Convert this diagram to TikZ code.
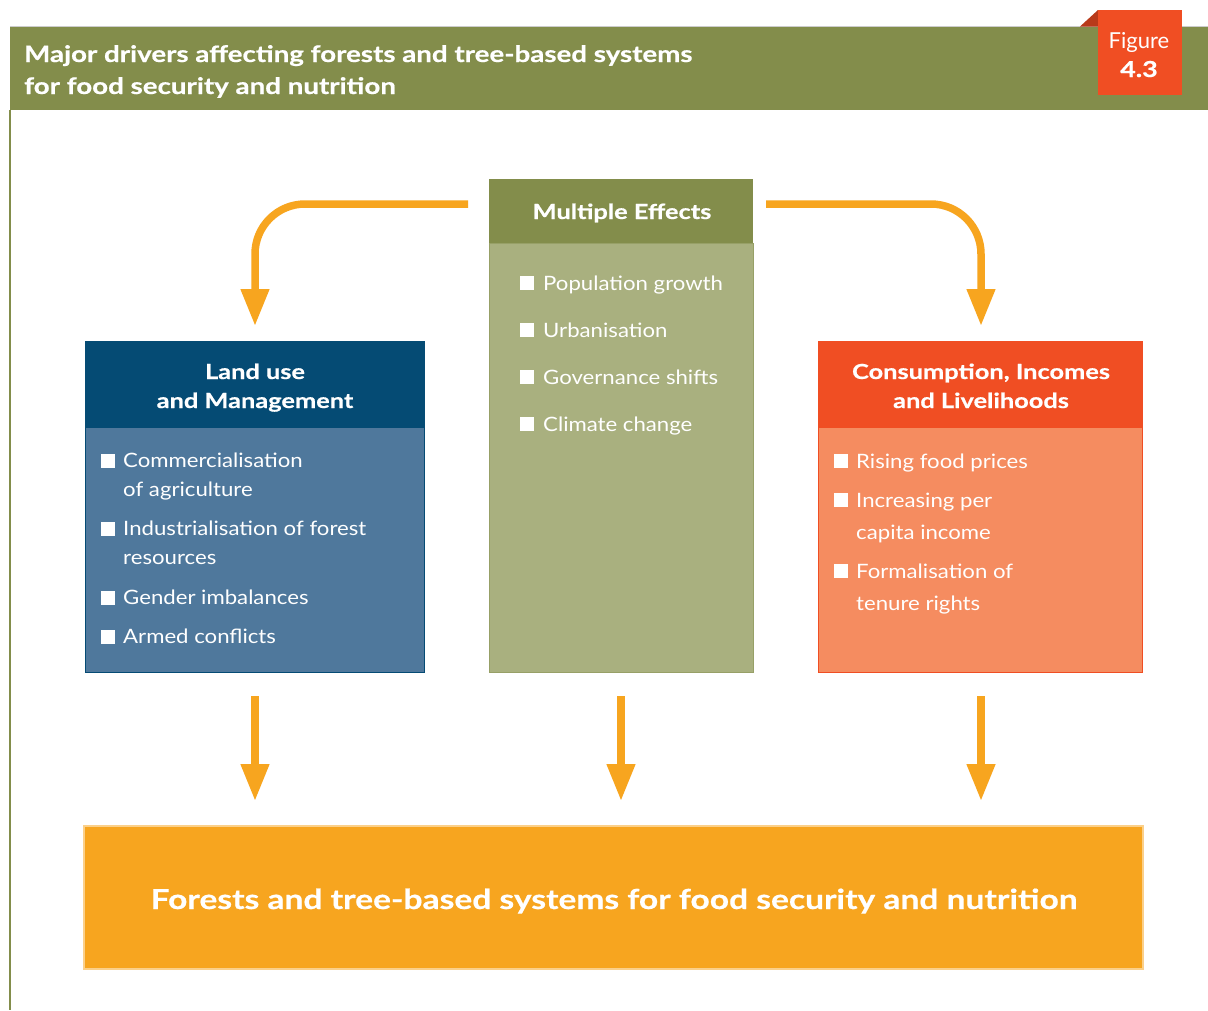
\documentclass[tikz,border=0pt]{standalone}
\usepackage{fontspec}
\setmainfont{Lato}
\newfontfamily\bwide[FakeStretch=1.22,FakeBold=0.6]{Lato Bold}
\newfontfamily\rwide[FakeStretch=1.12]{Lato}
\usetikzlibrary{arrows.meta}
\definecolor{olive}{HTML}{838D4B}
\definecolor{olivelt}{HTML}{A9B07F}
\definecolor{oliveln}{HTML}{97A067}
\definecolor{navy}{HTML}{054B74}
\definecolor{steel}{HTML}{4F789C}
\definecolor{redor}{HTML}{F04E23}
\definecolor{salmon}{HTML}{F58C60}
\definecolor{amber}{HTML}{F7A51F}
\definecolor{amberln}{HTML}{FBD08A}
\definecolor{foldc}{HTML}{B83A1A}
\tikzset{
  hdr/.style={inner sep=0, minimum width=#1},
  hdrtxt/.style={inner sep=0, text=white, font=\fontsize{20.8}{29}\bwide, align=center},
  body/.style={inner sep=0, minimum width=#1},
  itemtxt/.style={anchor=base west, inner sep=0, text=white, font=\fontsize{19.8}{24}\rwide},
  sq/.style={fill=white, inner sep=0, minimum size=13.5pt, anchor=south west},
  flow/.style={draw=amber, line width=7.5pt, -{Triangle[width=27pt,length=37pt]}},
}
\begin{document}
\begin{tikzpicture}[x=1pt,y=-1pt]
\useasboundingbox (0,0) rectangle (1208,1010);
\fill[white] (0,0) rectangle (1208,1010);
% header band
\draw[gray!40, line width=1pt] (10,26.5) -- (1208,26.5);
\fill[olive] (10,27) rectangle (1208,110);
\draw[olive, line width=1.2pt] (10,110) -- (10,1010);
\node[anchor=base west, inner sep=0, text=white, font=\fontsize{22.7}{32}\bwide] (t1) at (24,62) {Major drivers affecting forests and tree-based systems};
\node[anchor=base west, inner sep=0, text=white, font=\fontsize{22.7}{32}\bwide] (t2) at (24,94) {for food security and nutrition};
% figure tab
\fill[foldc] (1080,26.5) -- (1098,10) -- (1098,26.5) -- cycle;
\fill[redor] (1098,10) rectangle (1182,95);
\node[anchor=base, inner sep=0, text=white, font=\fontsize{22}{26}\selectfont] (fg) at (1139,48) {Figure};
\node[anchor=base, inner sep=0, text=white, font=\fontsize{22}{26}\bwide] (fn) at (1139,77) {4.3};

% centre box
\node[body=264pt, minimum height=429pt, fill=olivelt, draw=oliveln, line width=1pt] (mb) at (621,457.5) {};
\node[hdr=264pt, minimum height=64pt, fill=olive] (mh) at (621,211) {};
\node[hdrtxt, anchor=base] (mht) at (622,219) {Multiple Effects};
\node[sq] (m1s) at (520,290) {};
\node[itemtxt] (m1) at (543,290) {Population growth};
\node[sq] (m2s) at (520,337) {};
\node[itemtxt] (m2) at (543,337) {Urbanisation};
\node[sq] (m3s) at (520,384) {};
\node[itemtxt] (m3) at (543,384) {Governance shifts};
\node[sq] (m4s) at (520,431) {};
\node[itemtxt] (m4) at (543,431) {Climate change};

% left box
\node[body=339pt, minimum height=331pt, fill=steel, draw=navy, line width=1pt] (lb) at (254.5,506.5) {};
\node[hdr=339pt, minimum height=87pt, fill=navy] (lh) at (254.5,384.5) {};
\node[hdrtxt, anchor=base] (lht1) at (255,379) {Land use};
\node[hdrtxt, anchor=base] (lht2) at (255,408) {and Management};
\node[sq] (l1s) at (101,468) {};
\node[itemtxt] (l1) at (123,467.5) {Commercialisation};
\node[itemtxt] (l1b) at (123,496.5) {of agriculture};
\node[sq] (l2s) at (101,536) {};
\node[itemtxt] (l2) at (123,535.5) {Industrialisation of forest};
\node[itemtxt] (l2b) at (123,564.5) {resources};
\node[sq] (l3s) at (101,605) {};
\node[itemtxt] (l3) at (123,604.5) {Gender imbalances};
\node[sq] (l4s) at (101,644) {};
\node[itemtxt] (l4) at (123,643.5) {Armed conflicts};

% right box
\node[body=324pt, minimum height=331pt, fill=salmon, draw=redor, line width=1pt] (rb) at (980,506.5) {};
\node[hdr=324pt, minimum height=87pt, fill=redor] (rh) at (980,384.5) {};
\node[hdrtxt, anchor=base] (rht1) at (981,379) {Consumption, Incomes};
\node[hdrtxt, anchor=base] (rht2) at (981,408) {and Livelihoods};
\node[sq] (r1s) at (834,468) {};
\node[itemtxt] (r1) at (856,468) {Rising food prices};
\node[sq] (r2s) at (834,507) {};
\node[itemtxt] (r2) at (856,507) {Increasing per};
\node[itemtxt] (r2b) at (856,539) {capita income};
\node[sq] (r3s) at (834,578) {};
\node[itemtxt] (r3) at (856,578) {Formalisation of};
\node[itemtxt] (r3b) at (856,610) {tenure rights};

% bottom box
\node[body=1059pt, minimum height=143pt, fill=amber, draw=amberln, line width=1.5pt] (bt) at (613.5,897.5) {};
\node[anchor=base, inner sep=0, text=white, font=\fontsize{27.5}{34}\bwide] (btt) at (614,909) {Forests and tree-based systems for food security and nutrition};

% curved arrows
\coordinate (cl0) at (468,204);
\coordinate (cl1) at (255,204);
\coordinate (cl2) at (255,326);
\coordinate (cr0) at (766,204);
\coordinate (cr1) at (981,204);
\coordinate (cr2) at (981,326);
\draw[flow, rounded corners=50pt] (cl0) -- (cl1) -- (cl2);
\draw[flow, rounded corners=50pt] (cr0) -- (cr1) -- (cr2);
% straight arrows
\coordinate (dl0) at (255,696);
\coordinate (dl1) at (255,801);
\coordinate (dm0) at (621,696);
\coordinate (dm1) at (621,801);
\coordinate (dr0) at (981,696);
\coordinate (dr1) at (981,801);
\draw[flow] (dl0) -- (dl1);
\draw[flow] (dm0) -- (dm1);
\draw[flow] (dr0) -- (dr1);
\end{tikzpicture}
\end{document}
